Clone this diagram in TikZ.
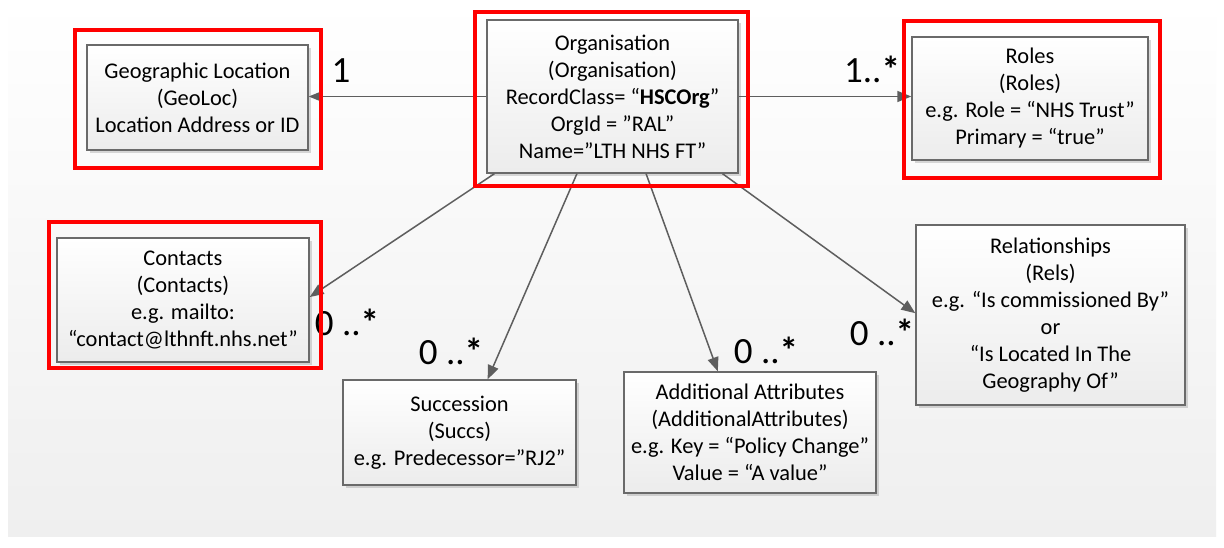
\documentclass[tikz,border=0pt]{standalone}
\usepackage{fontspec}
\setmainfont{Carlito}
\usetikzlibrary{arrows.meta,shadows,calc}
\definecolor{linegray}{HTML}{5E5E5E}
\definecolor{boxborder}{HTML}{6A6A6A}
\definecolor{redframe}{HTML}{FF0000}
\definecolor{bgbottom}{HTML}{EFEFEF}
\newcommand{\mstar}{\textbf{*}}
\begin{document}
\begin{tikzpicture}[x=0.5pt,y=-0.5pt,
  entity/.style={draw=boxborder, line width=0.7pt, top color=white, bottom color=gray!15,
    drop shadow={shadow xshift=1.5pt,shadow yshift=-1.5pt,opacity=0.3},
    align=center, font=\fontsize{11.2}{13.5}\selectfont, inner sep=0pt},
  conn/.style={draw=linegray, line width=0.75pt, -{Triangle[length=7pt,width=5.5pt]}},
  mult/.style={font=\fontsize{18.5}{18.5}\selectfont, inner sep=0pt, anchor=base},
  hilite/.style={draw=redframe, line width=2pt}]
\useasboundingbox (0,0) rectangle (1224,547);
\fill[white] (0,0) rectangle (1224,547);
\shade[top color=white, bottom color=bgbottom] (8,0) rectangle (1216,536);

% entities
\node[entity, minimum width=110.5pt, minimum height=52.5pt] (geo) at (197.5,97.5)
  {Geographic Location\\(GeoLoc)\\Location Address or ID};
\node[entity, minimum width=125.5pt, minimum height=76.5pt] (org) at (612.5,96.5)
  {Organisation\\(Organisation)\\RecordClass= “\textbf{HSCOrg}”\\OrgId = ”RAL”\\Name=”LTH NHS FT”};
\node[entity, minimum width=118pt, minimum height=61.5pt] (roles) at (1030,98.5)
  {Roles\\(Roles)\\e.g. Role = “NHS Trust”\\Primary = “true”};
\node[entity, minimum width=126pt, minimum height=62pt] (contacts) at (183,300)
  {Contacts\\(Contacts)\\e.g. mailto:\\“contact@lthnft.nhs.net”};
\node[entity, minimum width=134.5pt, minimum height=90pt] (rels) at (1050.5,315)
  {Relationships\\(Rels)\\e.g. “Is commissioned By”\\or\\“Is Located In The\\Geography Of”};
\node[entity, minimum width=116.5pt, minimum height=52.5pt] (succ) at (459.5,432.5)
  {Succession\\(Succs)\\e.g. Predecessor=”RJ2"};
\node[entity, minimum width=126pt, minimum height=60.5pt] (attr) at (750,432.5)
  {Additional Attributes\\(AdditionalAttributes)\\e.g. Key = “Policy Change”\\Value = “A value”};

% connectors
\draw[conn] (org.west) -- (org.west -| geo.east);
\draw[conn] (org.east) -- (org.east -| roles.west);
\draw[conn] ($(org.south west)!0.032!(org.south east)$) -- ($(contacts.north east)!0.476!(contacts.south east)$);
\draw[conn] ($(org.south west)!0.359!(org.south east)$) -- ($(succ.north west)!0.62!(succ.north east)$);
\draw[conn] ($(org.south west)!0.633!(org.south east)$) -- ($(attr.north west)!0.373!(attr.north east)$);
\draw[conn] ($(org.south west)!0.936!(org.south east)$) -- ($(rels.north west)!0.49!(rels.south west)$);

% multiplicities
\node[mult] (m1) at (341,82) {1};
\node[mult] (m2) at (872,82) {1..\mstar};
\node[mult] (m3) at (347,335) {0 ..\mstar};
\node[mult] (m4) at (451,364) {0 ..\mstar};
\node[mult] (m5) at (766,363) {0 ..\mstar};
\node[mult] (m6) at (882,345) {0 ..\mstar};

% highlight frames
\draw[hilite] (75,30) rectangle (321,168);
\draw[hilite] (475,12) rectangle (748,186);
\draw[hilite] (904,21) rectangle (1160,178);
\draw[hilite] (49,222) rectangle (321,368);
\end{tikzpicture}
\end{document}
